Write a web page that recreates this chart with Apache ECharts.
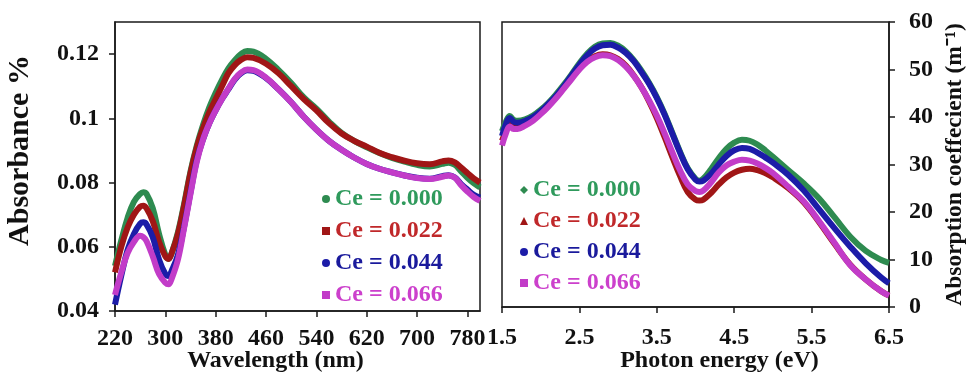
<!DOCTYPE html>
<html>
<head>
<meta charset="utf-8">
<script src="https://cdn.jsdelivr.net/npm/echarts@6/dist/echarts.min.js"></script>
<style>
html,body{margin:0;padding:0;background:#fff;}
#chart{width:967px;height:377px;}
</style>
</head>
<body>
<div id="chart"></div>
<script>
// ---- Data ----
const seriesNames = ['Ce = 0.000', 'Ce = 0.022', 'Ce = 0.044', 'Ce = 0.066'];

const wavelength = [220,230,240,250,260,265,270,280,290,300,
  305,310,320,330,340,350,360,370,380,390,
  400,410,420,430,440,460,480,500,520,540,
  560,580,600,620,640,660,680,700,720,740,
  750,760,770,780,790,800];

const abs000 = [0.054,0.062,0.069,0.0740,0.0765,0.0770,0.0765,0.0720,0.0640,0.0575,
  0.0562,0.0580,0.0645,0.0735,0.0835,0.0915,0.0980,0.1035,0.1080,0.1120,
  0.1155,0.1180,0.1200,0.1210,0.1208,0.1185,0.1150,0.1110,0.1065,0.1030,
  0.0990,0.0955,0.0930,0.0910,0.0892,0.0877,0.0865,0.0855,0.0850,0.0858,
  0.0862,0.0855,0.0835,0.0815,0.0798,0.0785];
const abs022 = [0.052,0.060,0.066,0.0700,0.0725,0.0728,0.0720,0.0680,0.0615,0.0570,
  0.0562,0.0580,0.0640,0.0730,0.0830,0.0910,0.0970,0.1020,0.1060,0.1100,
  0.1140,0.1165,0.1182,0.1190,0.1188,0.1170,0.1140,0.1100,0.1060,0.1025,
  0.0985,0.0953,0.0930,0.0912,0.0893,0.0879,0.0868,0.0860,0.0857,0.0866,
  0.0869,0.0863,0.0847,0.0830,0.0813,0.0800];
const abs044 = [0.042,0.051,0.059,0.0640,0.0672,0.0676,0.0670,0.0630,0.0560,0.0515,
  0.0509,0.0525,0.0575,0.0665,0.0770,0.0870,0.0935,0.0985,0.1025,0.1060,
  0.1090,0.1120,0.1140,0.1150,0.1148,0.1125,0.1090,0.1050,0.1005,0.0965,
  0.0930,0.0902,0.0878,0.0858,0.0843,0.0832,0.0822,0.0815,0.0812,0.0820,
  0.0823,0.0816,0.0795,0.0778,0.0762,0.0753];
const abs066 = [0.045,0.052,0.058,0.0615,0.0634,0.0630,0.0618,0.0570,0.0515,0.0488,
  0.0483,0.0500,0.0560,0.0660,0.0765,0.0865,0.0935,0.0985,0.1025,0.1060,
  0.1092,0.1122,0.1142,0.1152,0.1150,0.1127,0.1090,0.1050,0.1005,0.0965,
  0.0930,0.0902,0.0878,0.0858,0.0843,0.0832,0.0822,0.0814,0.0811,0.0818,
  0.0822,0.0815,0.0792,0.0772,0.0755,0.0743];

const energy = [1.5,1.55,1.6,1.65,1.7,1.8,1.9,2.0,2.1,2.2,
  2.3,2.4,2.5,2.6,2.7,2.8,2.9,3.0,3.1,3.2,
  3.3,3.4,3.5,3.6,3.7,3.8,3.9,4.0,4.05,4.1,
  4.2,4.3,4.4,4.5,4.6,4.7,4.8,4.9,5.0,5.2,
  5.4,5.6,5.8,6.0,6.2,6.4,6.5];

const alpha000 = [37,39,40.2,39.4,39.2,39.5,40.3,41.5,43,44.8,
  46.8,49,51.3,53.3,54.8,55.5,55.6,55,53.8,52,
  49.8,47.2,44.2,40.7,36.7,32.7,29.2,27,26.6,27,
  29,31.3,33.3,34.6,35.2,35,34.2,33,31.6,28.8,
  26,22.8,18.8,14.8,11.8,9.9,9.3];
const alpha022 = [35,37,38.5,37.8,37.8,38.4,39.4,40.8,42.4,44.2,
  46.2,48.2,50.2,51.8,52.8,53.2,53,52.2,50.8,48.8,
  46.3,43.3,39.8,35.8,31.6,27.6,24.2,22.6,22.4,22.6,
  24,25.8,27.3,28.3,28.9,29.1,28.8,28.2,27.3,25,
  22,17.8,13.2,8.9,5.8,3.3,2.4];
const alpha044 = [36,38.5,39.8,39,38.8,39.2,40,41.2,42.8,44.5,
  46.5,48.8,51,53,54.4,55.1,55.2,54.6,53.5,51.8,
  49.5,47,44,40.5,36.5,32.5,29,26.8,26.4,26.6,
  28,30,31.8,33,33.5,33.3,32.5,31.5,30.4,27.8,
  24.5,20.5,16.5,12.7,9.2,6.2,5];
const alpha066 = [34,36.5,38,37.5,37.5,38.2,39.2,40.6,42.2,44,
  46,48,50,51.6,52.6,53,52.8,52,50.6,48.7,
  46.3,43.5,40.3,36.6,32.6,28.8,25.8,24.4,24.2,24.5,
  26.2,28.3,29.8,30.6,31,30.8,30.2,29.3,28.2,25.3,
  22.2,18,13.4,8.8,5.8,3.3,2.4];

const wavelengthTicks = [220,300,380,460,540,620,700,780];
const absTicks = [0.04,0.06,0.08,0.1,0.12];
const energyTicks = [1.5,2.5,3.5,4.5,5.5,6.5];

// ---- Styling ----
const lineColors = ['#2e8b50', '#a01616', '#1c1ca8', '#c23cc8'];
const textColors = ['#2f9a5c', '#c0282a', '#1a1a9c', '#cc40cc'];
const FONT = '"Liberation Serif", "Times New Roman", serif';
const axisColor = '#1a1a1a';

function pairs(xs, ys){ return xs.map((x,i)=>[x, ys[i]]); }

const leftData = [abs000, abs022, abs044, abs066];
const rightData = [alpha000, alpha022, alpha044, alpha066];

const series = [];
leftData.forEach((d,i)=>{
  series.push({
    name: seriesNames[i], type:'line', xAxisIndex:0, yAxisIndex:0,
    data: pairs(wavelength, d), smooth:0.4, showSymbol:false, symbol:'none',
    lineStyle:{width:6, color:lineColors[i]}, itemStyle:{color:lineColors[i]}, z: 2+i
  });
});
rightData.forEach((d,i)=>{
  series.push({
    name: seriesNames[i], type:'line', xAxisIndex:1, yAxisIndex:1,
    data: pairs(energy, d), smooth:0.4, showSymbol:false, symbol:'none',
    lineStyle:{width:6, color:lineColors[i]}, itemStyle:{color:lineColors[i]}, z: 2+i
  });
});

const labelStyle = {fontFamily:FONT, fontWeight:'bold', fontSize:24, color:'#111'};
const nameStyle = {fontFamily:FONT, fontWeight:'bold', fontSize:24, color:'#111'};

const leftIcons = ['circle','rect','circle','rect'];
const rightIcons = ['diamond','triangle','circle','rect'];

function legendData(icons){
  return seriesNames.map((n,i)=>({name:n, icon:icons[i], textStyle:{color:textColors[i]}}));
}

const option = {
  animation:false,
  backgroundColor:'#fff',
  grid:[
    {left:115, top:22, width:365, height:289, show:true, borderColor:axisColor, borderWidth:1.5, containLabel:false, outerBoundsMode:'none'},
    {left:502, top:22, width:387, height:285, show:true, borderColor:axisColor, borderWidth:1.5, containLabel:false, outerBoundsMode:'none'}
  ],
  xAxis:[
    {type:'value', gridIndex:0, min:220, max:800,
     name:'Wavelength (nm)', nameLocation:'middle', nameGap:38, nameMoveOverlap:false,
     nameTextStyle:Object.assign({}, nameStyle, {padding:[0,44,0,0]}),
     axisLine:{show:true, onZero:false, lineStyle:{color:axisColor, width:1.5}},
     axisTick:{show:true, inside:false, length:6, customValues:wavelengthTicks, lineStyle:{color:axisColor, width:1.5}},
     axisLabel:Object.assign({margin:16, customValues:wavelengthTicks}, labelStyle),
     splitLine:{show:false}},
    {type:'value', gridIndex:1, min:1.5, max:6.5,
     name:'Photon energy (eV)', nameLocation:'middle', nameGap:42, nameMoveOverlap:false,
     nameTextStyle:Object.assign({}, nameStyle, {padding:[0,0,0,48]}),
     axisLine:{show:true, onZero:false, lineStyle:{color:axisColor, width:1.5}},
     axisTick:{show:true, inside:false, length:6, customValues:energyTicks, lineStyle:{color:axisColor, width:1.5}},
     axisLabel:Object.assign({margin:19, customValues:energyTicks}, labelStyle),
     splitLine:{show:false}}
  ],
  yAxis:[
    {type:'value', gridIndex:0, min:0.04, max:0.13,
     name:'Absorbance %', nameLocation:'middle', nameGap:80, nameRotate:90, nameMoveOverlap:false,
     nameTextStyle:Object.assign({}, nameStyle, {fontSize:30, padding:[0,0,0,32]}),
     axisLine:{show:true, onZero:false, lineStyle:{color:axisColor, width:1.5}},
     axisTick:{show:true, inside:false, length:6, customValues:absTicks, lineStyle:{color:axisColor, width:1.5}},
     axisLabel:Object.assign({margin:16, customValues:absTicks}, labelStyle),
     splitLine:{show:false}},
    {type:'value', gridIndex:1, min:0, max:60, interval:10, position:'right',
     name:'Absorption coeffecient (m\u207B\u00B9)', nameLocation:'middle', nameGap:54, nameRotate:90, nameMoveOverlap:false,
     nameTextStyle:Object.assign({}, nameStyle, {fontSize:23.5}),
     axisLine:{show:true, onZero:false, lineStyle:{color:axisColor, width:1.5}},
     axisTick:{show:true, inside:false, length:6, lineStyle:{color:axisColor, width:1.5}},
     axisLabel:Object.assign({margin:20}, labelStyle),
     splitLine:{show:false}}
  ],
  legend:[
    {orient:'vertical', left:317, top:182, itemWidth:8, itemHeight:8, itemGap:8,
     data:legendData(leftIcons), selectedMode:false,
     textStyle:{fontFamily:FONT, fontWeight:'bold', fontSize:24, lineHeight:23}},
    {orient:'vertical', left:515, top:173, itemWidth:8, itemHeight:8, itemGap:7,
     data:legendData(rightIcons), selectedMode:false,
     textStyle:{fontFamily:FONT, fontWeight:'bold', fontSize:24, lineHeight:23}}
  ],
  series: series
};

const chart = echarts.init(document.getElementById('chart'), null, {renderer:'canvas'});
chart.setOption(option);
</script>
</body>
</html>
